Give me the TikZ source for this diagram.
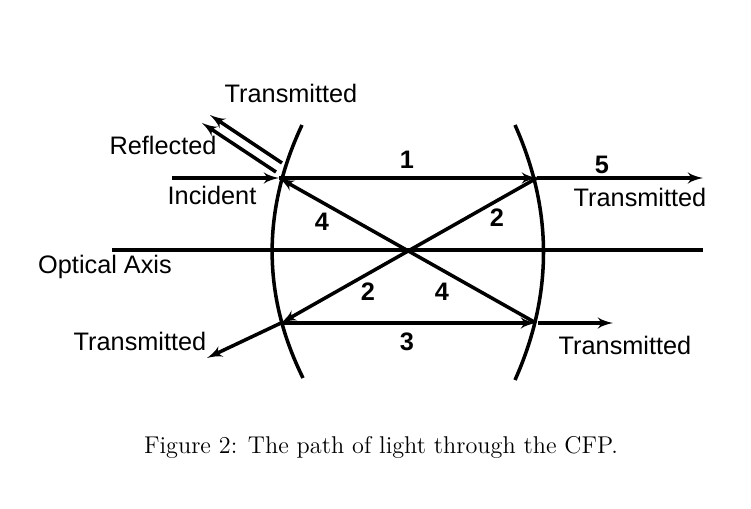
\documentclass[tikz,border=0pt]{standalone}
\usepackage{fontspec}
\setsansfont{Liberation Sans}
\usetikzlibrary{shapes,arrows}
\tikzstyle{txt} = [font=\sffamily\fontsize{14.4}{16}\selectfont, inner sep=0pt]
\tikzstyle{nr} = [font=\sffamily\bfseries\fontsize{14.4}{16}\selectfont, inner sep=0pt]
\tikzstyle{line} = [draw, -latex', line width=2pt]
\tikzstyle{mirror} = [draw, line width=2pt]

\begin{document}
\begin{tikzpicture}[x=0.02cm, y=-0.02cm]
	\useasboundingbox (0,0) rectangle (751,509);
		% mirrors
		\draw [mirror] (302,125) .. controls (262,210) and (262,295) .. (303,378);
		\draw [mirror] (515,125) .. controls (553,210) and (553,295) .. (515,380);
		
		% points on the mirrors
		\coordinate (lt) at (279,178);
		\coordinate (rt) at (537,178);
		\coordinate (lb) at (281,323);
		\coordinate (rb) at (536,323);
		\coordinate (in) at (172,178);
		\coordinate (out5) at (703,178);
		\coordinate (outrb) at (613,323);
		\coordinate (rbs) at (538,323);
		\coordinate (outlb) at (207,358);
		\coordinate (ax1) at (112,250);
		\coordinate (ax2) at (703,250);
		\coordinate (tr0) at (282,163);
		\coordinate (tr1) at (210,115);
		\coordinate (re0) at (276,172);
		\coordinate (re1) at (202,123);
		
		\node [txt] (ttop) at (291,93) {Transmitted};
		\node [txt] (refl) at (163,145) {Reflected};
		\node [txt] (inc) at (212,195) {Incident};
		\node [txt] (axis) at (105,267) {Optical Axis};
		\node [txt] (tlb) at (140,341) {Transmitted};
		\node [txt] (trt) at (640,197) {Transmitted};
		\node [txt] (trb) at (625,345) {Transmitted};
		
		\node [nr] (n1) at (407,160) {1};
		\node [nr] (n4a) at (322,222) {4};
		\node [nr] (n2a) at (497,218) {2};
		\node [nr] (n2b) at (368,292) {2};
		\node [nr] (n4b) at (442,292) {4};
		\node [nr] (n3) at (407,342) {3};
		\node [nr] (n5) at (602,165) {5};
		
		\path [mirror] (ax1) -- (ax2);
		\path [line] (in) -- (lt);
		\path [line] (lt) -- (rt);
		\path [line] (rt) -- (lb);
		\path [line] (lb) -- (rb);
		\path [line] (rb) -- (lt);
		\path [line] (rt) -- (out5);
		\path [line] (rbs) -- (outrb);
		\path [line] (lb) -- (outlb);
		\path [line] (tr0) -- (tr1);
		\path [line] (re0) -- (re1);
		
		\node (cap) at (381,447) {\fontsize{13.8}{16}\selectfont Figure 2: The path of light through the CFP.};
	\end{tikzpicture}
\end{document}
